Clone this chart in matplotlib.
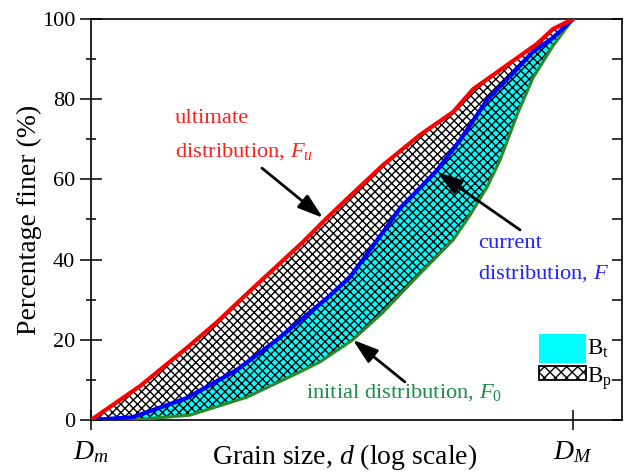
import numpy as np
import matplotlib
matplotlib.use("Agg")
import matplotlib.pyplot as plt
from matplotlib.ticker import FixedLocator, NullLocator, MultipleLocator
from matplotlib.patches import Rectangle

# ---------------- data ----------------
# grain sizes expressed relative to D_m = 1, D_M = 100 (log axis)
D_m, D_M = 1.0, 100.0
x_max = 159.7

# ultimate distribution F_u
d_u = [1, 1.60, 2.50, 3.33, 4.57, 5.91, 7.58, 9.35, 11.9, 16.3, 23.2, 31.8, 38.5, 51.3, 70.9, 82.6, 100]
F_u = [0, 8.5, 18.0, 24.4, 32.2, 38.4, 44.4, 49.9, 55.9, 63.6, 71.1, 76.8, 82.5, 87.8, 93.8, 97.5, 100]

# current distribution F
d_c = [1, 1.49, 2.50, 4.03, 5.91, 9.53, 11.9, 16.3, 19.2, 23.2, 27.3, 34.0, 44.0, 56.4, 68.2, 82.6, 100]
F_c = [0, 0.7, 5.5, 12.5, 20.0, 30.4, 35.7, 46.9, 52.9, 57.9, 62.3, 69.8, 79.8, 86.5, 91.8, 95.3, 100]

# initial distribution F_0
d_0 = [1, 1.49, 2.57, 4.44, 7.37, 8.92, 12.2, 16.3, 22.5, 31.8, 37.4, 44.0, 49.8, 58.6, 68.2, 82.6, 100]
F_0 = [0, 0, 1.2, 5.7, 12.0, 14.5, 20.0, 26.9, 35.7, 44.9, 51.1, 58.1, 64.8, 76.1, 85.3, 93.3, 100]

y_major = [0, 20, 40, 60, 80, 100]
x_tick_labels = ["$D_m$", "$D_M$"]

# ---------------- style ----------------
plt.rcParams["font.family"] = ["Liberation Serif", "DejaVu Serif"]
plt.rcParams["mathtext.fontset"] = "custom"
plt.rcParams["mathtext.rm"] = "Liberation Serif"
plt.rcParams["mathtext.it"] = "Liberation Serif:italic"
plt.rcParams["mathtext.bf"] = "Liberation Serif:bold"
plt.rcParams["hatch.linewidth"] = 1.0

RED = "#ff0000"
BLUE = "#0000ff"
GREEN = "#2a8a2a"
GREEN_TXT = "#1f8c4c"
TXT_RED = "#ff2020"
TXT_BLUE = "#2323ff"

fig = plt.figure(figsize=(6.25, 4.74), dpi=100)
ax = fig.add_axes([0.1456, 0.1139, 0.8496, 0.8461])
ax.set_xscale("log")
ax.set_xlim(D_m, x_max)
ax.set_ylim(0, 100)

# B_p region: between ultimate and current
ax.fill(np.r_[d_u, d_c[::-1]], np.r_[F_u, F_c[::-1]],
        facecolor="white", edgecolor="black", hatch="xxxx", linewidth=0, zorder=1)
# B_t region: between current and initial
ax.fill(np.r_[d_c, d_0[::-1]], np.r_[F_c, F_0[::-1]],
        facecolor="cyan", edgecolor="black", hatch="xxxx", linewidth=0, zorder=1)

ax.plot(d_0, F_0, color=GREEN, lw=2.2, zorder=3)
ax.plot(d_c, F_c, color=BLUE, lw=3.0, zorder=4)
ax.plot(d_u, F_u, color=RED, lw=3.0, zorder=5)

# ticks
ax.xaxis.set_major_locator(FixedLocator([D_m, D_M]))
ax.xaxis.set_minor_locator(NullLocator())
ax.set_xticklabels(x_tick_labels, fontsize=20)
ax.tick_params(axis="x", which="major", direction="inout", length=14, width=1.1,
               pad=7, top=False)

ax.set_yticks(y_major)
ax.yaxis.set_minor_locator(MultipleLocator(10))
ax.tick_params(axis="y", which="major", direction="inout", length=16, width=1.1,
               labelsize=16, pad=3.5, right=False)
ax.tick_params(axis="y", which="minor", direction="inout", length=7, width=1.1, right=False)

for s in ax.spines.values():
    s.set_linewidth(1.2)

ax2 = ax.twinx()
ax2.set_ylim(0, 100)
ax2.yaxis.set_major_locator(MultipleLocator(10))
ax2.tick_params(axis="y", direction="in", length=7, width=1.1, labelright=False)
for s in ax2.spines.values():
    s.set_visible(False)

ax.set_xlabel("Grain size, $d$ (log scale)", fontsize=20)
ax.xaxis.set_label_coords(0.478, -0.055)
ax.set_ylabel("Percentage finer (%)", fontsize=20)
ax.yaxis.set_label_coords(-0.092, 0.5)

# annotations
arrow_kw = dict(arrowstyle="-|>,head_length=1.4,head_width=0.45", color="black",
                lw=2.0, mutation_scale=11, shrinkA=0, shrinkB=0)
ax.annotate("", xy=(9.18, 50.4), xycoords="data", xytext=(0.322, 0.628),
            textcoords="axes fraction", arrowprops=arrow_kw, zorder=6)
ax.annotate("", xy=(27.3, 61.8), xycoords="data", xytext=(0.808, 0.474),
            textcoords="axes fraction", arrowprops=arrow_kw, zorder=6)
ax.annotate("", xy=(12.2, 20.0), xycoords="data", xytext=(0.591, 0.095),
            textcoords="axes fraction", arrowprops=arrow_kw, zorder=6)

fs = 16.2
ax.text(0.158, 0.741, "ultimate", color=TXT_RED, fontsize=fs, transform=ax.transAxes, va="baseline")
ax.text(0.158, 0.658, "distribution, $F_u$", color=TXT_RED, fontsize=fs, transform=ax.transAxes, va="baseline")
ax.text(0.729, 0.429, "current", color=TXT_BLUE, fontsize=fs, transform=ax.transAxes, va="baseline")
ax.text(0.729, 0.352, "distribution, $F$", color=TXT_BLUE, fontsize=fs, transform=ax.transAxes, va="baseline")
ax.text(0.405, 0.055, "initial distribution, $F_0$", color=GREEN_TXT, fontsize=fs,
        transform=ax.transAxes, va="baseline")

# legend boxes
ax.add_patch(Rectangle((0.8437, 0.142), 0.0883, 0.0725, transform=ax.transAxes,
                       facecolor="cyan", edgecolor="none", zorder=6))
ax.add_patch(Rectangle((0.8437, 0.0998), 0.0883, 0.0349, transform=ax.transAxes,
                       facecolor="white", edgecolor="black", hatch="xxx", lw=1.3, zorder=6))
ax.text(0.934, 0.162, r"B$_\mathrm{t}$", fontsize=16.5, transform=ax.transAxes, va="baseline")
ax.text(0.934, 0.092, r"B$_\mathrm{p}$", fontsize=16.5, transform=ax.transAxes, va="baseline")

fig.savefig("out.png", dpi=100)
